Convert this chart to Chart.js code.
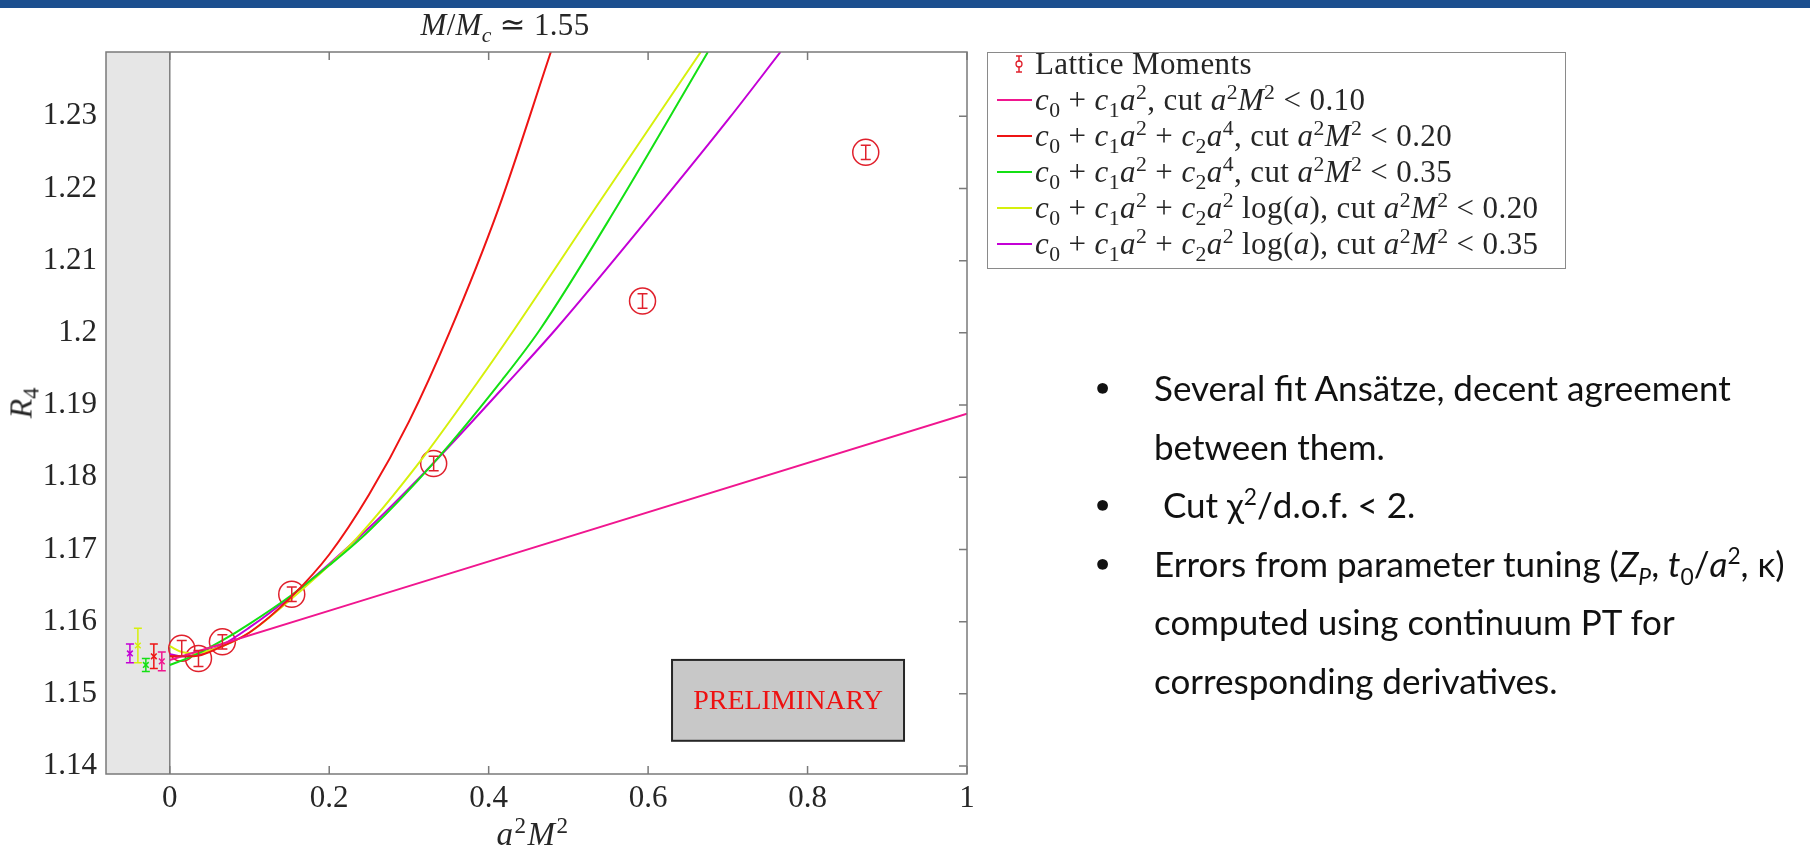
<!DOCTYPE html>
<html>
<head>
<meta charset="utf-8">
<script src="https://cdn.jsdelivr.net/npm/chart.js@4.4.1/dist/chart.umd.min.js"></script>
<style>
  html, body { margin: 0; padding: 0; background: #fff; }
  body { width: 1810px; height: 850px; position: relative; overflow: hidden; }
  #topbar { position: absolute; left: 0; top: 0; width: 1810px; height: 8px; background: #1c4f8f; }
  #chart { position: absolute; left: 0; top: 0; }
  .math { position: absolute; font-family: "Liberation Serif", "DejaVu Serif", serif; color: #262626; white-space: nowrap; }
  .math sub, .math sup { font-size: 0.7em; line-height: 0; }
  #title { left: 505px; top: 24px; font-size: 31px; transform: translate(-50%, -50%); letter-spacing: 0.3px; }
  #xlabel { left: 533px; top: 834px; font-size: 33px; transform: translate(-50%, -50%); letter-spacing: 1.5px; }
  #ylabel { left: 21px; top: 403px; font-size: 32px; transform: translate(-50%, -50%) rotate(-90deg); }
  #legend { position: absolute; left: 987px; top: 52px; width: 579px; height: 217px; border: 1.5px solid #8a8a8a; background: #fff; box-sizing: border-box; }
  .row { position: absolute; left: 0; height: 36px; width: 100%; }
  .row .sym { position: absolute; left: 8px; top: 0; width: 36px; height: 36px; }
  .row .txt { position: absolute; left: 47px; top: 50%; transform: translateY(-50%); font-size: 31px; letter-spacing: 0.4px; }
  #notes { position: absolute; left: 1096px; top: 358px; font-family: Lato, "Open Sans", sans-serif; font-size: 35px; line-height: 58.5px; color: #111; }
  #notes .item { position: relative; padding-left: 58px; }
  #notes .item::before { content: "\25CF"; position: absolute; left: 0; top: 0; font-size: 22px; }
  #notes sub, #notes sup { font-size: 0.65em; line-height: 0; }
</style>
</head>
<body>
<div id="topbar"></div>
<canvas id="chart" width="1810" height="850"></canvas>
<div id="title" class="math"><i>M</i>/<i>M</i><sub><i>c</i></sub> &#8771; 1.55</div>
<div id="xlabel" class="math"><i>a</i><sup>2</sup><i>M</i><sup>2</sup></div>
<div id="ylabel" class="math"><i>R</i><sub>4</sub></div>
<div id="legend"></div>
<div id="notes">
  <div class="item">Several fit Ansätze, decent agreement<br>between them.</div>
  <div class="item">&nbsp;Cut &#967;<sup>2</sup>/d.o.f. &lt; 2.</div>
  <div class="item">Errors from parameter tuning (<i>Z<sub>P</sub></i>, <i>t</i><sub>0</sub>/<i>a</i><sup>2</sup>, &#954;)<br>computed using continuum PT for<br>corresponding derivatives.</div>
</div>
<script>
// axis ticks
const xTicks = [0, 0.2, 0.4, 0.6, 0.8, 1];
const yTicks = [1.14, 1.15, 1.16, 1.17, 1.18, 1.19, 1.2, 1.21, 1.22, 1.23];

// lattice moments (a^2 M^2, R4, error)
const latticeX = [0.015, 0.036, 0.066, 0.153, 0.331, 0.593, 0.873];
const latticeY = [1.1563, 1.1549, 1.1572, 1.1638, 1.1819, 1.2044, 1.2250];
const latticeErr = [0.0011, 0.0011, 0.0010, 0.0010, 0.0010, 0.0010, 0.0010];

// fits: pink, red, green, yellow, purple
const fitNames = [
  "c0 + c1 a^2, cut a^2M^2 < 0.10",
  "c0 + c1 a^2 + c2 a^4, cut a^2M^2 < 0.20",
  "c0 + c1 a^2 + c2 a^4, cut a^2M^2 < 0.35",
  "c0 + c1 a^2 + c2 a^2 log(a), cut a^2M^2 < 0.20",
  "c0 + c1 a^2 + c2 a^2 log(a), cut a^2M^2 < 0.35",
];
const fitLegend = [
  "<i>c</i><sub>0</sub> + <i>c</i><sub>1</sub><i>a</i><sup>2</sup>, cut <i>a</i><sup>2</sup><i>M</i><sup>2</sup> &lt; 0.10",
  "<i>c</i><sub>0</sub> + <i>c</i><sub>1</sub><i>a</i><sup>2</sup> + <i>c</i><sub>2</sub><i>a</i><sup>4</sup>, cut <i>a</i><sup>2</sup><i>M</i><sup>2</sup> &lt; 0.20",
  "<i>c</i><sub>0</sub> + <i>c</i><sub>1</sub><i>a</i><sup>2</sup> + <i>c</i><sub>2</sub><i>a</i><sup>4</sup>, cut <i>a</i><sup>2</sup><i>M</i><sup>2</sup> &lt; 0.35",
  "<i>c</i><sub>0</sub> + <i>c</i><sub>1</sub><i>a</i><sup>2</sup> + <i>c</i><sub>2</sub><i>a</i><sup>2</sup> log(<i>a</i>), cut <i>a</i><sup>2</sup><i>M</i><sup>2</sup> &lt; 0.20",
  "<i>c</i><sub>0</sub> + <i>c</i><sub>1</sub><i>a</i><sup>2</sup> + <i>c</i><sub>2</sub><i>a</i><sup>2</sup> log(<i>a</i>), cut <i>a</i><sup>2</sup><i>M</i><sup>2</sup> &lt; 0.35",
];
const fitColors = ["#f0168f", "#ee1414", "#14e014", "#d6f00c", "#c400d6"];

const fitX = [
  [0, 1],
  [0, 0.03, 0.066, 0.1, 0.153, 0.2, 0.25, 0.3, 0.351, 0.412, 0.478],
  [0, 0.03, 0.066, 0.1, 0.153, 0.2, 0.25, 0.331, 0.417, 0.464, 0.561, 0.675],
  [0, 0.015, 0.03, 0.066, 0.1, 0.153, 0.182, 0.234, 0.314, 0.387, 0.431, 0.54, 0.666],
  [0, 0.015, 0.03, 0.066, 0.1, 0.153, 0.2, 0.25, 0.331, 0.428, 0.485, 0.616, 0.703, 0.766],
];
const fitY = [
  [1.1547, 1.1888],
  [1.1552, 1.1552, 1.1566, 1.1585, 1.1635, 1.1693, 1.1776, 1.1877, 1.2001, 1.2171, 1.2389],
  [1.1540, 1.1553, 1.1574, 1.1597, 1.1637, 1.1678, 1.1726, 1.1820, 1.1935, 1.2004, 1.2175, 1.2389],
  [1.1566, 1.1558, 1.1556, 1.1566, 1.1585, 1.1632, 1.1660, 1.1715, 1.1822, 1.1933, 1.2003, 1.2183, 1.2389],
  [1.1555, 1.1552, 1.1553, 1.1568, 1.1592, 1.1636, 1.1680, 1.1730, 1.1820, 1.1936, 1.2006, 1.2180, 1.2299, 1.2389],
];

// continuum extrapolations, one per fit (shown left of zero)
const extrapX = [-0.01, -0.02, -0.03, -0.04, -0.05];
const extrapY = [1.1545, 1.1552, 1.1540, 1.1567, 1.1556];
const extrapErr = [0.0013, 0.0017, 0.0009, 0.0024, 0.0013];

const latticeColor = "#e0202c";
const axisColor = "#7a7a7a";

// legend (html so the maths can be set properly)
const legendEl = document.getElementById("legend");
const rowTop = (i) => -7 + i * 36;
legendEl.innerHTML =
  '<div class="row" style="top:' + rowTop(0) + 'px"><svg class="sym" viewBox="0 0 36 36">' +
  '<line x1="23" y1="10" x2="23" y2="26" stroke="' + latticeColor + '" stroke-width="1.5"/>' +
  '<line x1="20" y1="10" x2="26" y2="10" stroke="' + latticeColor + '" stroke-width="1.5"/>' +
  '<line x1="20" y1="26" x2="26" y2="26" stroke="' + latticeColor + '" stroke-width="1.5"/>' +
  '<circle cx="23" cy="18" r="3" fill="#fff" stroke="' + latticeColor + '" stroke-width="1.3"/></svg>' +
  '<div class="txt math">Lattice Moments</div></div>' +
  fitLegend.map((html, i) =>
    '<div class="row" style="top:' + rowTop(i + 1) + 'px"><svg class="sym" viewBox="0 0 36 36">' +
    '<line x1="1" y1="18" x2="36" y2="18" stroke="' + fitColors[i] + '" stroke-width="2"/></svg>' +
    '<div class="txt math">' + html + '</div></div>').join("");

const framePlugin = {
  id: "frame",
  beforeDatasetsDraw(chart) {
    const { ctx, chartArea: a, scales: { x } } = chart;
    ctx.save();
    ctx.fillStyle = "#e6e6e6";
    ctx.fillRect(a.left, a.top, x.getPixelForValue(0) - a.left, a.bottom - a.top);
    ctx.strokeStyle = "#808080";
    ctx.lineWidth = 1.5;
    ctx.beginPath();
    ctx.moveTo(x.getPixelForValue(0), a.top);
    ctx.lineTo(x.getPixelForValue(0), a.bottom);
    ctx.stroke();
    ctx.restore();
  },
  afterDatasetsDraw(chart) {
    const { ctx, scales: { x, y } } = chart;
    const bar = (xv, yv, err, color, cap) => {
      const px = x.getPixelForValue(xv);
      const p0 = y.getPixelForValue(yv - err);
      const p1 = y.getPixelForValue(yv + err);
      ctx.strokeStyle = color;
      ctx.lineWidth = 1.5;
      ctx.beginPath();
      ctx.moveTo(px, p0); ctx.lineTo(px, p1);
      ctx.moveTo(px - cap, p0); ctx.lineTo(px + cap, p0);
      ctx.moveTo(px - cap, p1); ctx.lineTo(px + cap, p1);
      ctx.stroke();
    };
    ctx.save();
    latticeX.forEach((v, i) => bar(v, latticeY[i], latticeErr[i], latticeColor, 5));
    extrapX.forEach((v, i) => bar(v, extrapY[i], extrapErr[i], fitColors[i], 4));

    // PRELIMINARY stamp
    const bx0 = x.getPixelForValue(0.63), bx1 = x.getPixelForValue(0.921);
    const by0 = y.getPixelForValue(1.1547), by1 = y.getPixelForValue(1.1435);
    ctx.fillStyle = "#c8c8c8";
    ctx.fillRect(bx0, by0, bx1 - bx0, by1 - by0);
    ctx.strokeStyle = "#262626";
    ctx.lineWidth = 2;
    ctx.strokeRect(bx0, by0, bx1 - bx0, by1 - by0);
    ctx.fillStyle = "#ee1111";
    ctx.font = '28px "Liberation Serif", serif';
    ctx.textAlign = "center";
    ctx.textBaseline = "middle";
    ctx.fillText("PRELIMINARY", (bx0 + bx1) / 2, (by0 + by1) / 2 + 1);
    ctx.restore();
  },
  afterDraw(chart) {
    const { ctx, chartArea: a, scales: { x, y } } = chart;
    ctx.save();
    ctx.strokeStyle = axisColor;
    ctx.lineWidth = 1.5;
    ctx.strokeRect(a.left, a.top, a.right - a.left, a.bottom - a.top);
    ctx.beginPath();
    xTicks.forEach((v) => {
      const px = x.getPixelForValue(v);
      ctx.moveTo(px, a.bottom); ctx.lineTo(px, a.bottom - 8);
      ctx.moveTo(px, a.top); ctx.lineTo(px, a.top + 8);
    });
    yTicks.forEach((v) => {
      const py = y.getPixelForValue(v);
      ctx.moveTo(a.right, py); ctx.lineTo(a.right - 8, py);
    });
    ctx.stroke();
    ctx.restore();
  },
};

const datasets = fitNames.map((name, i) => ({
  label: name,
  data: fitX[i].map((xv, k) => ({ x: xv, y: fitY[i][k] })),
  showLine: true,
  borderColor: fitColors[i],
  borderWidth: 2,
  pointRadius: 0,
  cubicInterpolationMode: "monotone",
  fill: false,
}));
datasets.push({
  label: "Lattice Moments",
  data: latticeX.map((xv, k) => ({ x: xv, y: latticeY[k] })),
  pointStyle: "circle",
  pointRadius: 13,
  pointBorderWidth: 1.5,
  pointBorderColor: latticeColor,
  pointBackgroundColor: "rgba(0,0,0,0)",
  showLine: false,
});
datasets.push({
  label: "Continuum",
  data: extrapX.map((xv, k) => ({ x: xv, y: extrapY[k] })),
  pointStyle: "crossRot",
  pointRadius: 4,
  pointBorderWidth: 1.5,
  pointBorderColor: fitColors,
  showLine: false,
});

const tickFont = { family: '"Liberation Serif", serif', size: 31 };

new Chart(document.getElementById("chart").getContext("2d"), {
  type: "scatter",
  data: { datasets },
  options: {
    responsive: false,
    animation: false,
    layout: { padding: { left: 0, top: 52, right: 843, bottom: 0 } },
    plugins: { legend: { display: false }, tooltip: { enabled: false } },
    scales: {
      x: {
        type: "linear",
        min: -0.08,
        max: 1,
        grid: { display: false, drawTicks: false },
        border: { display: false },
        afterBuildTicks: (axis) => { axis.ticks = xTicks.map((v) => ({ value: v })); },
        afterFit: (axis) => { axis.height = 76; },
        ticks: {
          font: tickFont,
          color: "#262626",
          padding: 6,
          maxRotation: 0,
          callback: (v) => String(Number(v.toFixed(1))),
        },
      },
      y: {
        type: "linear",
        min: 1.1389,
        max: 1.2389,
        grid: { display: false, drawTicks: false },
        border: { display: false },
        afterBuildTicks: (axis) => { axis.ticks = yTicks.map((v) => ({ value: v })); },
        afterFit: (axis) => { axis.width = 106; },
        ticks: {
          font: tickFont,
          color: "#262626",
          padding: 9,
          callback: (v) => String(Number(v.toFixed(2))),
        },
      },
    },
  },
  plugins: [framePlugin],
});
</script>
</body>
</html>
